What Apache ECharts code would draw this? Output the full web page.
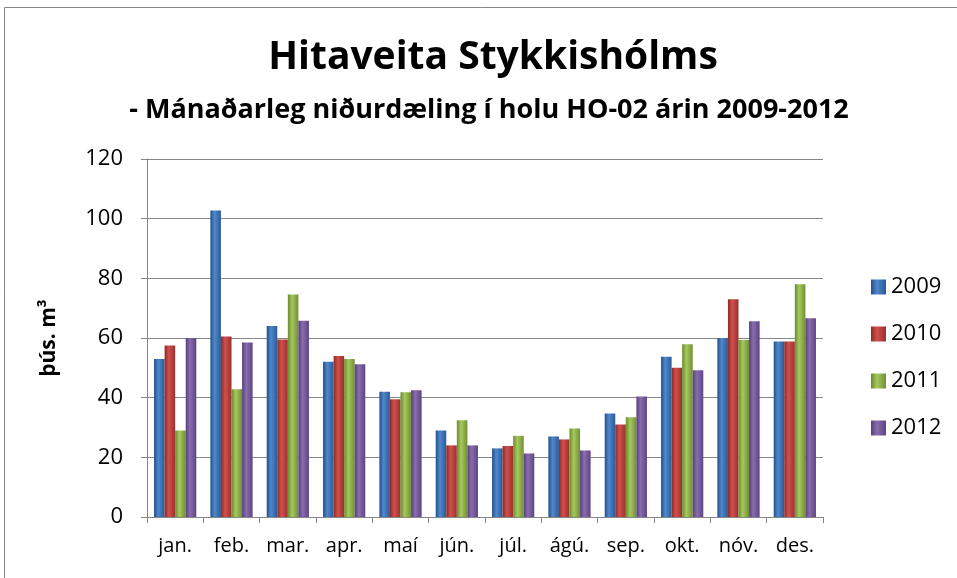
<!DOCTYPE html>
<html>
<head>
<meta charset="utf-8">
<script src="https://cdn.jsdelivr.net/npm/echarts@6/dist/echarts.min.js"></script>
<style>
  html, body { margin: 0; padding: 0; background: #fff; }
  #chart { width: 957px; height: 578px; }
</style>
</head>
<body>
<div id="chart"></div>
<script>
const months = ['jan.', 'feb.', 'mar.', 'apr.', 'maí', 'jún.', 'júl.', 'ágú.', 'sep.', 'okt.', 'nóv.', 'des.']
const years = ['2009', '2010', '2011', '2012']

const v2009 = [53, 102.7, 64, 52, 42, 29, 23, 27, 34.7, 53.7, 60, 58.8]
const v2010 = [57.5, 60.5, 59.5, 54, 39.5, 24, 23.8, 26, 31, 50, 73, 58.8]
const v2011 = [29, 42.8, 74.6, 53, 41.8, 32.4, 27.2, 29.7, 33.4, 57.9, 59.3, 78]
const v2012 = [60, 58.5, 65.8, 51.2, 42.5, 24, 21.3, 22.3, 40.4, 49.2, 65.6, 66.6]

// edge, highlight, edge
const palette = [
  ['#22508a', '#4f88cc', '#2a5b96'],
  ['#8e2a28', '#d0504c', '#9a302d'],
  ['#6a8a2e', '#a6c95e', '#718f33'],
  ['#56407a', '#8a6cb0', '#5c4582'],
]

const font = '"Open Sans", Lato, sans-serif'

function barColor(c) {
  return new echarts.graphic.LinearGradient(0, 0, 1, 0, [
    { offset: 0, color: c[0] },
    { offset: 0.4, color: c[1] },
    { offset: 1, color: c[2] },
  ])
}

const chart = echarts.init(document.getElementById('chart'))
const seriesData = [v2009, v2010, v2011, v2012]

chart.setOption({
  animation: false,
  textStyle: { fontFamily: font },
  graphic: [
    {
      type: 'rect',
      shape: { x: 4.5, y: 7.5, width: 1000, height: 1000 },
      style: { fill: 'none', stroke: '#868686', lineWidth: 1 },
    },
  ],
  title: [
    {
      text: 'Hitaveita Stykkishólms',
      left: 488,
      textAlign: 'center',
      top: 33,
      textStyle: { fontSize: 39, fontWeight: 'bold', color: '#000', fontFamily: font },
    },
    {
      text: '- Mánaðarleg niðurdæling í holu HO-02 árin 2009-2012',
      left: 484,
      textAlign: 'center',
      top: 92,
      textStyle: { fontSize: 27, fontWeight: 'bold', color: '#000', fontFamily: font },
    },
  ],
  legend: {
    orient: 'vertical',
    left: 866,
    top: 271,
    itemWidth: 15,
    itemHeight: 15,
    itemGap: 25,
    icon: 'rect',
    textStyle: { fontSize: 22, color: '#000', fontFamily: font },
    data: years,
  },
  grid: { left: 147, right: 134, top: 159, bottom: 61 },
  xAxis: {
    type: 'category',
    data: months,
    axisLine: { lineStyle: { color: '#868686', width: 1 } },
    axisTick: { show: true, length: 6, lineStyle: { color: '#868686' } },
    axisLabel: { color: '#000', fontSize: 20, margin: 19, fontFamily: font },
  },
  yAxis: {
    type: 'value',
    min: 0,
    max: 120,
    interval: 20,
    name: 'þús. m³',
    nameLocation: 'middle',
    nameRotate: 90,
    nameGap: 87,
    nameTextStyle: { fontSize: 21, fontWeight: 'bold', color: '#000', fontFamily: font },
    axisLine: { show: true, lineStyle: { color: '#868686', width: 1 } },
    axisTick: { show: true, length: 6, lineStyle: { color: '#868686' } },
    axisLabel: { color: '#000', fontSize: 22, margin: 24, fontFamily: font },
    splitLine: { lineStyle: { color: '#868686', width: 1 } },
  },
  series: years.map((y, i) => ({
    name: y,
    type: 'bar',
    data: seriesData[i],
    barGap: '0%',
    barCategoryGap: '25%',
    itemStyle: { color: barColor(palette[i]) },
  })),
})
</script>
</body>
</html>
